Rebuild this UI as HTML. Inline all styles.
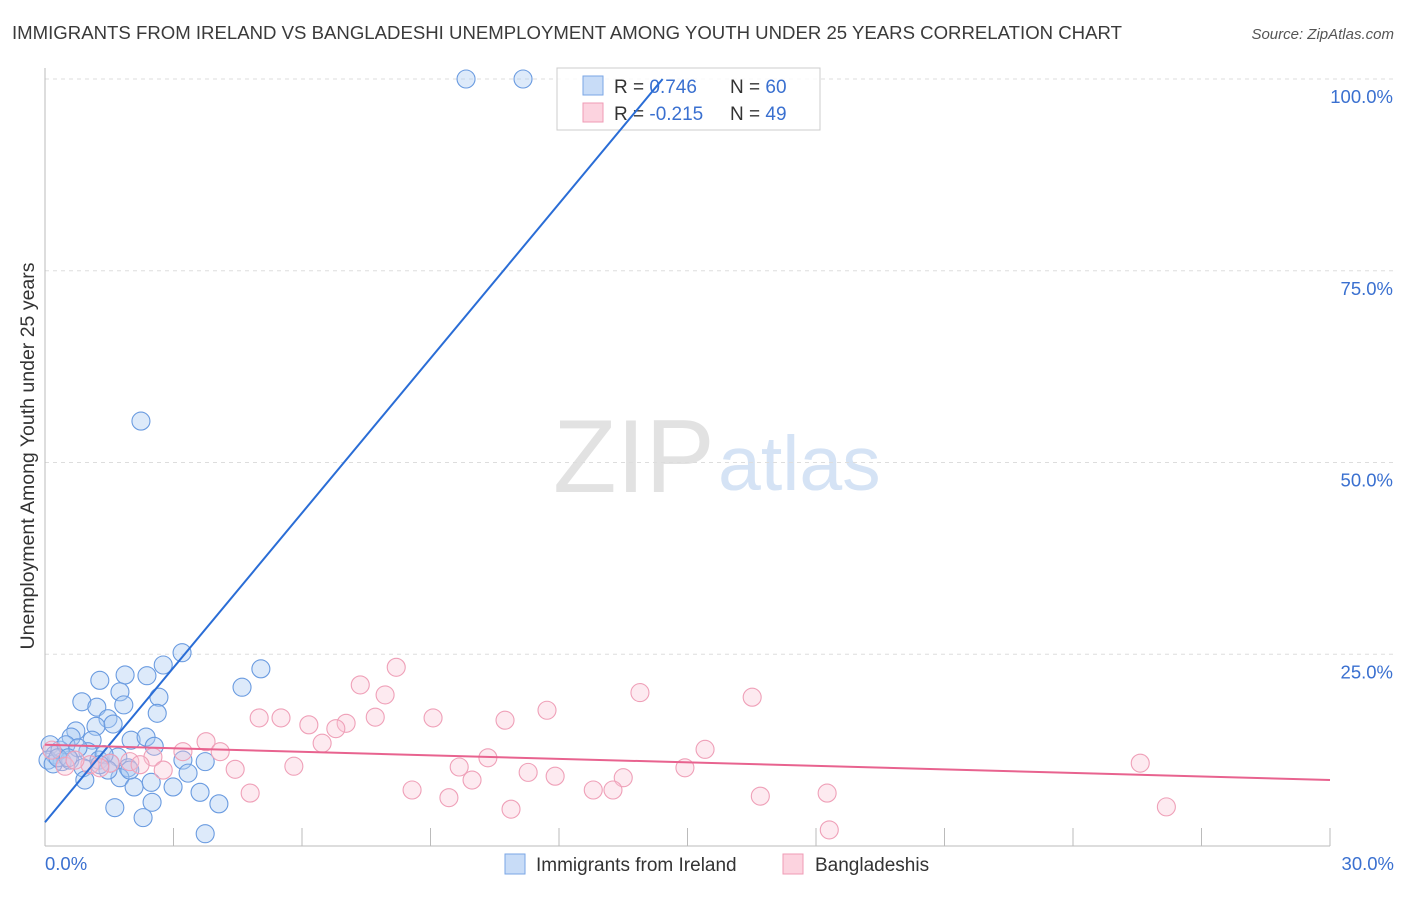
<!DOCTYPE html>
<html><head><meta charset="utf-8"><style>
body{margin:0;background:#fff;font-family:"Liberation Sans",sans-serif;}
svg text{font-family:"Liberation Sans",sans-serif;}
</style></head><body>
<svg id="c" width="1406" height="892" xmlns="http://www.w3.org/2000/svg">
<text x="12" y="39" font-size="18.6" fill="#3a3a3a">IMMIGRANTS FROM IRELAND VS BANGLADESHI UNEMPLOYMENT AMONG YOUTH UNDER 25 YEARS CORRELATION CHART</text>
<text x="1394" y="39" font-size="15" fill="#555" font-style="italic" text-anchor="end">Source: ZipAtlas.com</text>
<text x="553" y="492" font-size="104" fill="#e2e2e2" font-family="Liberation Serif">ZIP</text>
<text x="718" y="490" font-size="77" fill="#d5e3f5">atlas</text>
<text transform="translate(34,456) rotate(-90)" font-size="19.5" fill="#333" text-anchor="middle">Unemployment Among Youth under 25 years</text>
<g id="grid"></g><g id="pts"></g>
<g>
<rect x="557" y="68" width="263" height="62" fill="#fff" fill-opacity="0.85" stroke="#ccc"/>
<rect x="583" y="76" width="20" height="19" fill="#c8dcf7" stroke="#7aa6e6"/>
<rect x="583" y="103" width="20" height="19" fill="#fcd3df" stroke="#ef9bb5"/>
<text x="614" y="93" font-size="19" fill="#333">R = <tspan fill="#3a70d0">0.746</tspan></text>
<text x="730" y="93" font-size="19" fill="#333">N = <tspan fill="#3a70d0">60</tspan></text>
<text x="614" y="120" font-size="19" fill="#333">R = <tspan fill="#3a70d0">-0.215</tspan></text>
<text x="730" y="120" font-size="19" fill="#333">N = <tspan fill="#3a70d0">49</tspan></text>
</g>
<g id="lines"></g>
<g>
<rect x="505" y="854" width="20" height="20" fill="#c8dcf7" stroke="#7aa6e6"/>
<text x="536" y="871" font-size="19" fill="#333">Immigrants from Ireland</text>
<rect x="783" y="854" width="20" height="20" fill="#fcd3df" stroke="#ef9bb5"/>
<text x="815" y="871" font-size="19" fill="#333">Bangladeshis</text>
</g>
</svg>
<script>
const blueX=[9.83,11.16,2.24,3.20,2.76,5.04,4.60,1.87,1.28,1.75,2.38,2.66,0.86,1.21,1.84,2.62,1.47,1.19,1.59,0.72,0.61,1.10,2.01,2.36,2.55,1.00,1.26,1.70,0.12,0.23,0.40,0.58,0.89,1.52,1.94,3.22,3.74,3.34,0.93,1.75,2.08,2.48,2.99,3.62,1.63,2.50,4.06,2.29,3.74,0.07,0.19,0.35,1.38,0.49,0.77,1.47,1.28,0.30,0.54,1.98];
const blueY=[100,100,55.4,25.2,23.6,23.1,20.7,22.3,21.6,20.1,22.2,19.4,18.8,18.1,18.4,17.3,16.6,15.6,15.9,15.0,14.2,13.8,13.8,14.2,13.0,12.3,11.2,11.6,13.2,11.9,11.0,11.2,10.2,10.8,10.2,11.2,11.0,9.5,8.6,8.9,7.7,8.3,7.7,7.0,5.0,5.7,5.5,3.7,1.6,11.2,10.7,12.5,11.9,13.2,12.8,9.9,10.6,11.5,11.5,9.9];
const pinkX=[8.20,7.36,7.94,13.89,16.51,5.00,5.51,7.03,7.71,9.06,10.74,11.72,6.16,6.79,6.47,3.76,3.22,2.52,4.09,10.34,15.41,4.44,5.81,2.76,9.67,11.28,11.91,13.50,14.94,9.97,4.79,8.57,9.43,10.88,12.80,13.26,16.70,18.26,18.31,25.57,26.18,1.52,1.05,0.47,1.98,0.70,0.16,1.28,2.22];
const pinkY=[23.3,21.0,19.7,20.0,19.4,16.7,16.7,16.0,16.8,16.7,16.4,17.7,15.8,15.3,13.4,13.6,12.3,11.6,12.3,11.5,12.6,10.0,10.4,9.9,10.3,9.6,9.1,8.9,10.2,8.6,6.9,7.3,6.3,4.8,7.3,7.3,6.5,6.9,2.1,10.8,5.1,10.8,10.6,10.4,11.0,11.2,12.5,10.2,10.6];
const yTicks=[25,50,75,100];
const yTickLabels=["25.0%","50.0%","75.0%","100.0%"];
const xTicks=[0,3,6,9,12,15,18,21,24,27,30];
const blueFit=[3.1,6.72];   // intercept, slope
const pinkFit=[13.2,-0.153];
const NS="http://www.w3.org/2000/svg";
const sx=v=>45+v/30*1285, sy=v=>846-v*7.67;
function mk(t,a,p){const e=document.createElementNS(NS,t);for(const k in a)e.setAttribute(k,a[k]);document.getElementById(p).appendChild(e);return e;}
yTicks.forEach((t,i)=>{
 const g=mk('line',{x1:45,x2:1394,y1:sy(t),y2:sy(t),stroke:'#ddd','stroke-dasharray':'4,4'},'grid');
 
 
 const l=mk('text',{x:1393,y:sy(t)+24,'font-size':18.5,fill:'#3a70d0','text-anchor':'end'},'grid');
 l.textContent=yTickLabels[i];
 
 
});
const ax=mk('line',{x1:45,x2:45,y1:68,y2:846,stroke:'#bbb'},'grid');


const bx=mk('line',{x1:45,x2:1330,y1:846,y2:846,stroke:'#bbb'},'grid');


xTicks.forEach(t=>{const e=mk('line',{x1:sx(t),x2:sx(t),y1:828,y2:846,stroke:'#bbb'},'grid');
 
 });
const xl0=mk('text',{x:45,y:870,'font-size':18.5,fill:'#3a70d0'},'grid');xl0.textContent='0.0%';


const xl1=mk('text',{x:1394,y:870,'font-size':18.5,fill:'#3a70d0','text-anchor':'end'},'grid');xl1.textContent='30.0%';


blueX.forEach((x,i)=>{const c=mk('circle',{cx:sx(x),cy:sy(blueY[i]),r:9,fill:'rgba(170,202,242,0.4)',stroke:'#6a9be0','stroke-width':1.1},'pts');
 
 });
pinkX.forEach((x,i)=>{const c=mk('circle',{cx:sx(x),cy:sy(pinkY[i]),r:9,fill:'rgba(248,196,212,0.35)',stroke:'#efa0b8','stroke-width':1.1},'pts');
 
 });
const bxEnd=(100-blueFit[0])/blueFit[1];
const bl=mk('line',{x1:sx(0),y1:sy(blueFit[0]),x2:sx(bxEnd),y2:sy(100),stroke:'#2a6dd6','stroke-width':2},'lines');


const pl=mk('line',{x1:sx(0),y1:sy(pinkFit[0]),x2:sx(30),y2:sy(pinkFit[0]+pinkFit[1]*30),stroke:'#e8638f','stroke-width':2},'lines');


</script>
</body></html>
